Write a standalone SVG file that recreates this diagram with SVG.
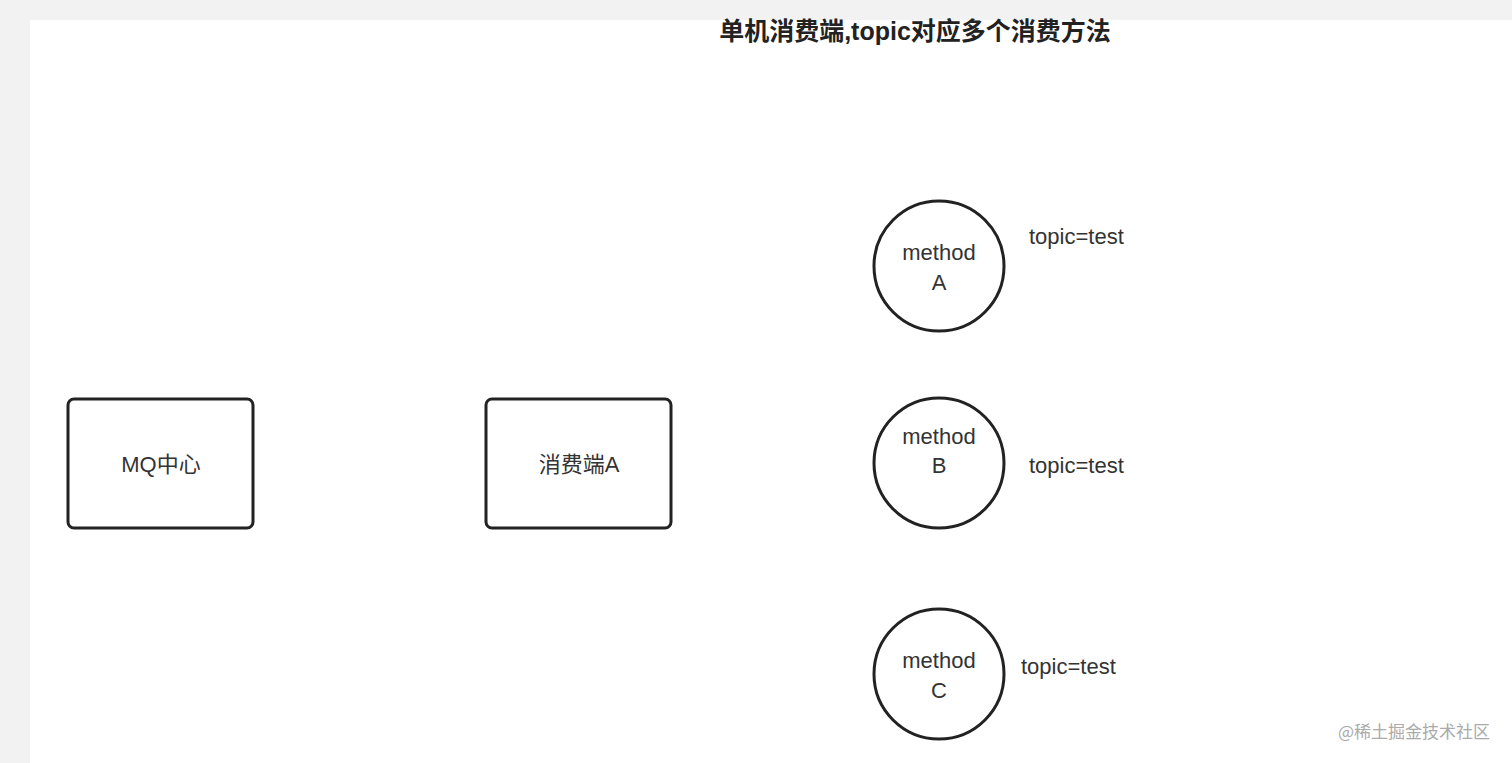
<svg xmlns="http://www.w3.org/2000/svg" width="1512" height="763" viewBox="0 0 1512 763">
<style>
.n{fill:#fff;stroke:#222;stroke-width:3}
.t{font-family:"Liberation Sans","Noto Sans CJK SC",sans-serif;font-size:22px;fill:#333;text-anchor:middle}
.l{font-family:"Liberation Sans",sans-serif;font-size:22px;fill:#333}
</style>
<rect width="1512" height="763" fill="#f2f2f2"/>
<rect x="30" y="20" width="1482" height="743" fill="#fff"/>
<text x="915" y="40" class="t" style="font-size:25px;font-weight:bold;fill:#222">单机消费端,topic对应多个消费方法</text>
<g id="mq"><rect class="n" x="68" y="399" width="185" height="129" rx="6"/><text class="t" x="161" y="472">MQ中心</text></g>
<g id="consumerA"><rect class="n" x="486" y="399" width="185" height="129" rx="6"/><text class="t" x="579" y="472">消费端A</text></g>
<g id="methodA"><circle class="n" cx="939" cy="266" r="65"/><text class="t" x="939" y="260">method</text><text class="t" x="939" y="290">A</text></g>
<g id="methodB"><circle class="n" cx="939" cy="463" r="65"/><text class="t" x="939" y="444">method</text><text class="t" x="939" y="473">B</text></g>
<g id="methodC"><circle class="n" cx="939" cy="674" r="65"/><text class="t" x="939" y="668">method</text><text class="t" x="939" y="698">C</text></g>
<text class="l" x="1029" y="244">topic=test</text>
<text class="l" x="1029" y="473">topic=test</text>
<text class="l" x="1021" y="674">topic=test</text>
<text x="1490" y="738" style="font-family:'Noto Sans CJK SC',sans-serif;font-size:17px;fill:#aaa;text-anchor:end">@稀土掘金技术社区</text>
<g id="connectors"/>
</svg>
